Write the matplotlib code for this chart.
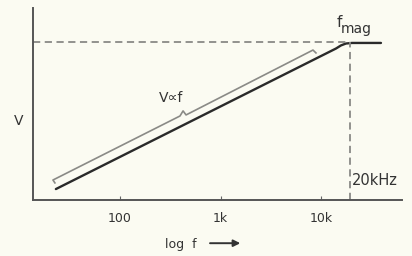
import numpy as np
import matplotlib.pyplot as plt

# Response curve (V vs frequency, log axis)
resp_f = [23, 14100, 15800, 17700, 20300, 39500]
resp_v = [0.057, 0.789, 0.805, 0.815, 0.818, 0.818]

# Gray brace marking the V proportional to f region
brace_f = [22.5, 21.5, 395, 424, 454, 8320, 8910]
brace_v = [0.089, 0.104, 0.4375, 0.464, 0.443, 0.781, 0.766]

v_max = 0.823       # dashed level
f_mag = 19500       # dashed cut-off
tick_f = [100, 1000, 10000]
tick_labels = ['100', '1k', '10k']

bg = '#fbfbf2'
fig = plt.figure(figsize=(4.12, 2.56), dpi=100, facecolor=bg)
ax = fig.add_axes([33/412, 56/256, 369/412, 192/256], facecolor=bg)

ax.set_xscale('log')
ax.set_xlim(10**1.134, 10**4.806)
ax.set_ylim(0, 1)

ax.plot(resp_f, resp_v, color='#2a2a2a', lw=1.7, solid_capstyle='round')
ax.plot(brace_f, brace_v, color='#8a8a86', lw=1.2)
ax.plot([ax.get_xlim()[0], f_mag], [v_max, v_max], color='#8a8a86',
        lw=1.3, ls=(0, (4, 2.5)))
ax.plot([f_mag, f_mag], [0, v_max], color='#8a8a86', lw=1.3, ls=(0, (4, 2.5)))

for s in ['top', 'right']:
    ax.spines[s].set_visible(False)
for s in ['left', 'bottom']:
    ax.spines[s].set_color('#555555')
    ax.spines[s].set_linewidth(1.4)

ax.set_yticks([])
ax.set_xticks(tick_f)
ax.set_xticklabels(tick_labels)
ax.minorticks_off()
ax.tick_params(axis='x', direction='in', length=3, color='#666666',
               labelsize=9, labelcolor='#333333', pad=9)

txt = dict(color='#333333', fontsize=10)
ax.text(-0.04, 0.41, 'V', transform=ax.transAxes, ha='center', va='center', **txt)
ax.text(321, 0.53, 'V\u221df', ha='center', va='center', **txt)
ax.text(14300, 0.90, 'f', ha='left', va='baseline', color='#333333', fontsize=11)
ax.text(15900, 0.87, 'mag', ha='left', va='baseline', color='#333333', fontsize=10)
ax.text(f_mag * 1.03, 0.1, '20kHz', ha='left', va='center', fontsize=10.5,
        color='#333333')

fig.text(0.44, 0.045, 'log  f', ha='center', va='center', fontsize=9, color='#333333')
ax.annotate('', xy=(0.59, 0.05), xytext=(0.503, 0.05), xycoords='figure fraction',
            arrowprops=dict(arrowstyle='-|>', color='#333333', lw=1.4,
                            mutation_scale=10))

fig.savefig('out.png', dpi=100, facecolor=bg)
